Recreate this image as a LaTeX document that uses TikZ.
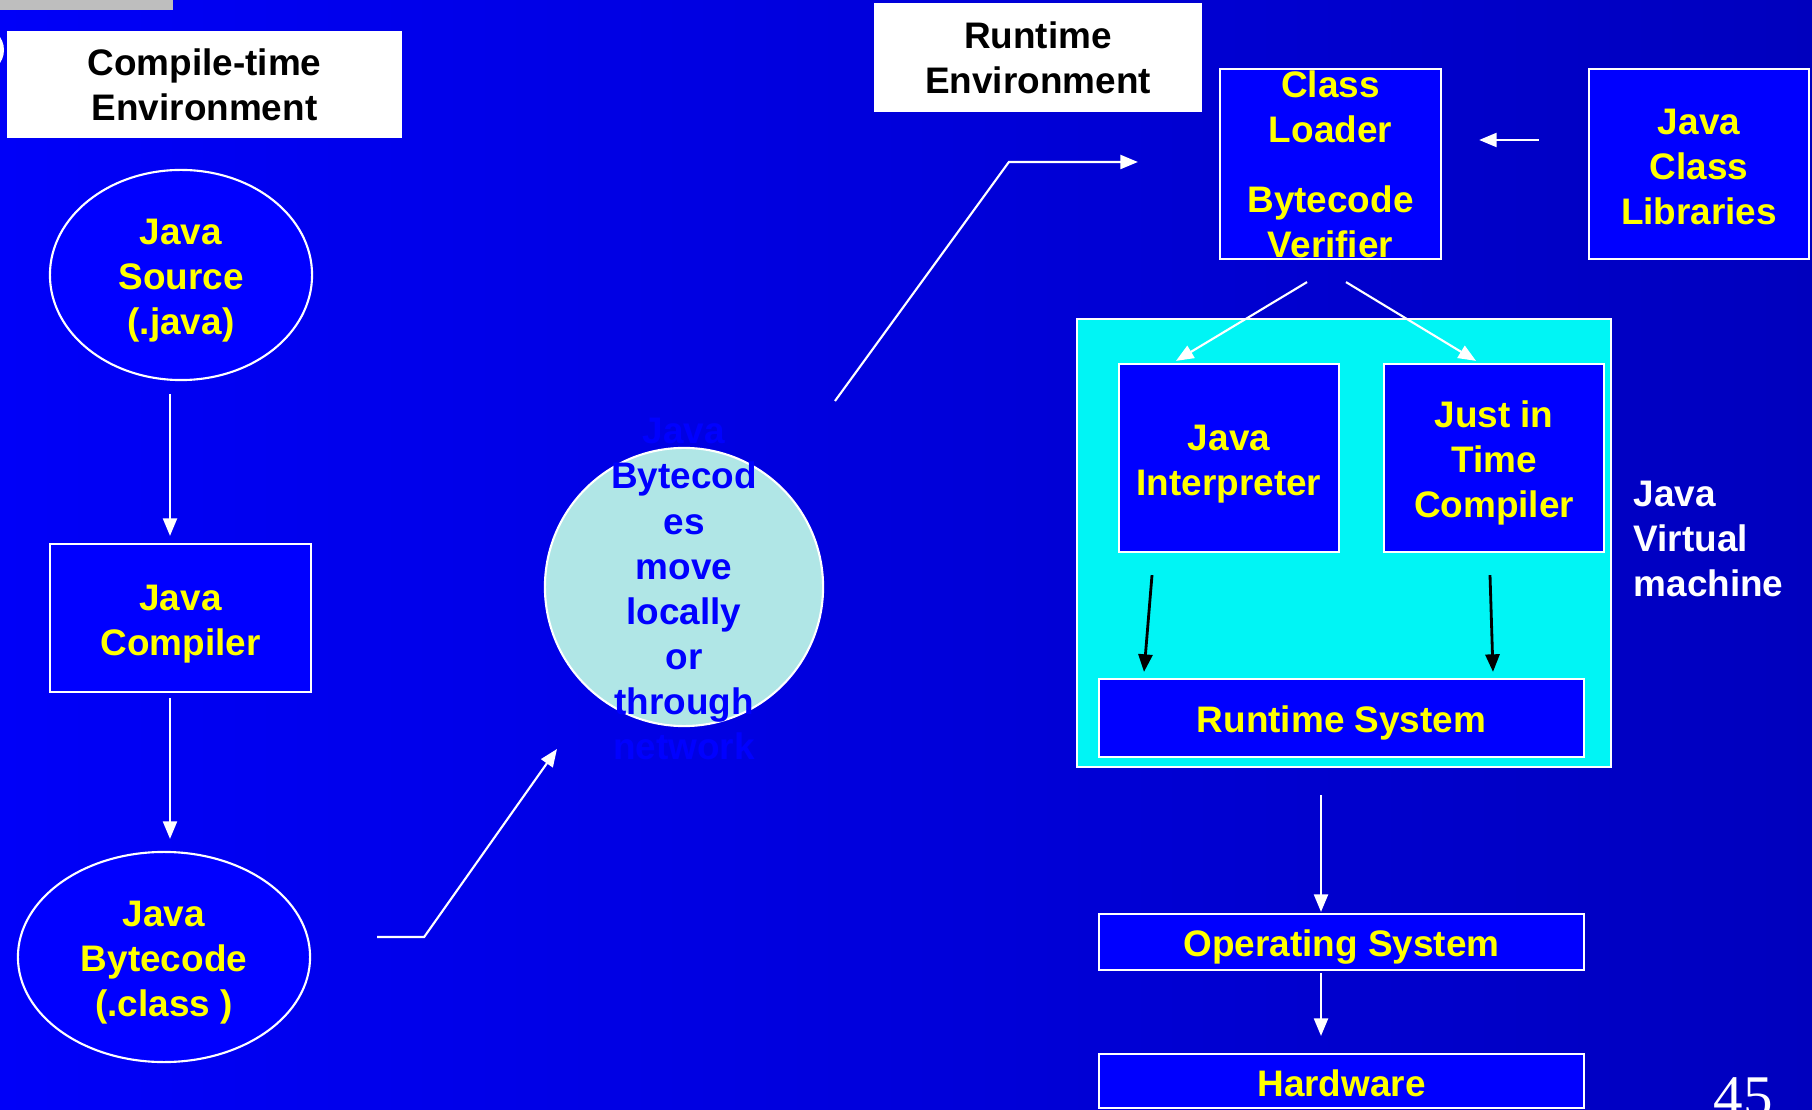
\documentclass[tikz,border=0pt]{standalone}
\usepackage{fontspec}
\setmainfont{Liberation Sans}
\newfontfamily\numfont{Liberation Serif}
\usetikzlibrary{arrows.meta,shapes.geometric,calc}

\definecolor{bgleft}{RGB}{0,0,248}
\definecolor{bgright}{RGB}{0,0,190}
\definecolor{boxblue}{RGB}{0,0,255}
\definecolor{txtyellow}{RGB}{255,255,0}
\definecolor{jvmcyan}{RGB}{0,245,245}
\definecolor{netfill}{RGB}{176,230,230}
\definecolor{tabgray}{RGB}{190,190,190}

% strut on the first line pushes the label block down a little
\newcommand{\lowstrut}{\rule{0pt}{10.5pt}}
\newcommand{\midstrut}{\rule{0pt}{9pt}}

\begin{document}
\begin{tikzpicture}[x=0.01cm,y=-0.01cm,
  every node/.style={font=\fontsize{10.5}{12.8}\selectfont\bfseries, align=center, inner sep=0pt},
  bluebox/.style={rectangle, draw=white, line width=0.6pt, fill=boxblue, text=txtyellow},
  blueoval/.style={ellipse, draw=white, line width=0.6pt, fill=boxblue, text=txtyellow},
  titlebox/.style={rectangle, fill=white, text=black},
  warrow/.style={draw=white, line width=0.6pt, -{Triangle[length=5pt,width=4pt]}},
  karrow/.style={draw=black, line width=0.8pt, -{Triangle[length=5pt,width=4pt]}},
]
% page and background
\useasboundingbox (0,0) rectangle (1812,1110);
\shade[left color=bgleft, right color=bgright] (0,0) rectangle (1812,1110);
\begin{scope}
\clip (0,0) rectangle (1812,1110);
\fill[tabgray] (0,0) rectangle (173,10);
\fill[white] (-19,50) circle[radius=23];

% compile-time side
\node[titlebox, minimum width=3.95cm, minimum height=1.07cm] (ctenv) at (204.5,84.5) {Compile-time\\Environment};
\node[blueoval, minimum width=2.62cm, minimum height=2.10cm] (src) at (181,275) {\lowstrut Java\\Source\\(.java)};
\node[bluebox, minimum width=2.61cm, minimum height=1.48cm] (comp) at (180.5,618) {\lowstrut Java\\Compiler};
\node[blueoval, minimum width=2.92cm, minimum height=2.10cm] (bc) at (164,957) {\lowstrut Java\\Bytecode\\(.class )};

% transfer bubble
\node[circle, draw=white, line width=0.6pt, fill=netfill, text=boxblue, minimum size=2.78cm] (net) at (684,587) {};
\node[text=boxblue] (nettext) at (684,589) {Java\\Bytecod\\es\\move\\locally\\or\\through\\network};

% runtime side
\node[titlebox, minimum width=3.28cm, minimum height=1.09cm] (rtenv) at (1038,57.5) {Runtime\\Environment};
\node[bluebox, minimum width=2.21cm, minimum height=1.90cm] (cl) at (1330.5,164) {Class\\Loader\\[7pt]Bytecode\\Verifier};
\node[bluebox, minimum width=2.20cm, minimum height=1.90cm] (lib) at (1699,164) {\midstrut Java\\Class\\Libraries};
\node[rectangle, draw=white, line width=0.6pt, fill=jvmcyan, minimum width=5.34cm, minimum height=4.48cm] (jvm) at (1344,543) {};
\node[anchor=west, align=left, text=white] (jvmlabel) at (1633,539) {Java\\Virtual\\machine};
\node[bluebox, minimum width=2.20cm, minimum height=1.88cm] (interp) at (1229,458) {\lowstrut Java\\Interpreter};
\node[bluebox, minimum width=2.20cm, minimum height=1.88cm] (jit) at (1494,458) {\lowstrut Just in\\Time\\Compiler};
\node[bluebox, minimum width=4.85cm, minimum height=0.78cm] (rts) at (1341.5,718) {\lowstrut Runtime System};
\node[bluebox, minimum width=4.85cm, minimum height=0.56cm] (os) at (1341.5,942) {\lowstrut Operating System};
\node[bluebox, minimum width=4.85cm, minimum height=0.54cm] (hw) at (1341.5,1081) {\midstrut Hardware};

% slide number
\node[anchor=base west, text=white, font=\numfont\fontsize{16.8}{18}\selectfont] (pageno) at (1713,1116) {45};

% connectors
\draw[warrow] ($(src.south)+(-11,13)$) -- ($(comp.north)+(-10.5,-7)$);
\draw[warrow] ($(comp.south)+(-10.5,5)$) -- ($(bc.north)+(6,-12)$);
\draw[warrow] ($(bc.east)+(66,-20)$) -- ++(47,0) -- ($(net.center)+(-127,162)$);
\draw[warrow] ($(net.center)+(151,-186)$) -- ($(cl.west)+(-210,-2)$) -- ($(cl.west)+(-81,-2)$);
\draw[warrow] ($(lib.west)+(-49,-24)$) -- ($(cl.east)+(37,-24)$);
\draw[warrow] ($(cl.south)+(-23.5,22)$) -- ($(interp.north)+(-53,-2)$);
\draw[warrow] ($(cl.south)+(15.5,22)$) -- ($(jit.north)+(-18,-2)$);
\draw[karrow] ($(interp.south)+(-77,22)$) -- ($(rts.north)+(-197.5,-6)$);
\draw[karrow] ($(jit.south)+(-4,22)$) -- ($(rts.north)+(151.5,-6)$);
\draw[warrow] ($(jvm.south)+(-23,27)$) -- ($(os.north)+(-20.5,-1)$);
\draw[warrow] ($(os.south)+(-20.5,2)$) -- ($(hw.north)+(-20.5,-17)$);
\end{scope}
\end{tikzpicture}
\end{document}
